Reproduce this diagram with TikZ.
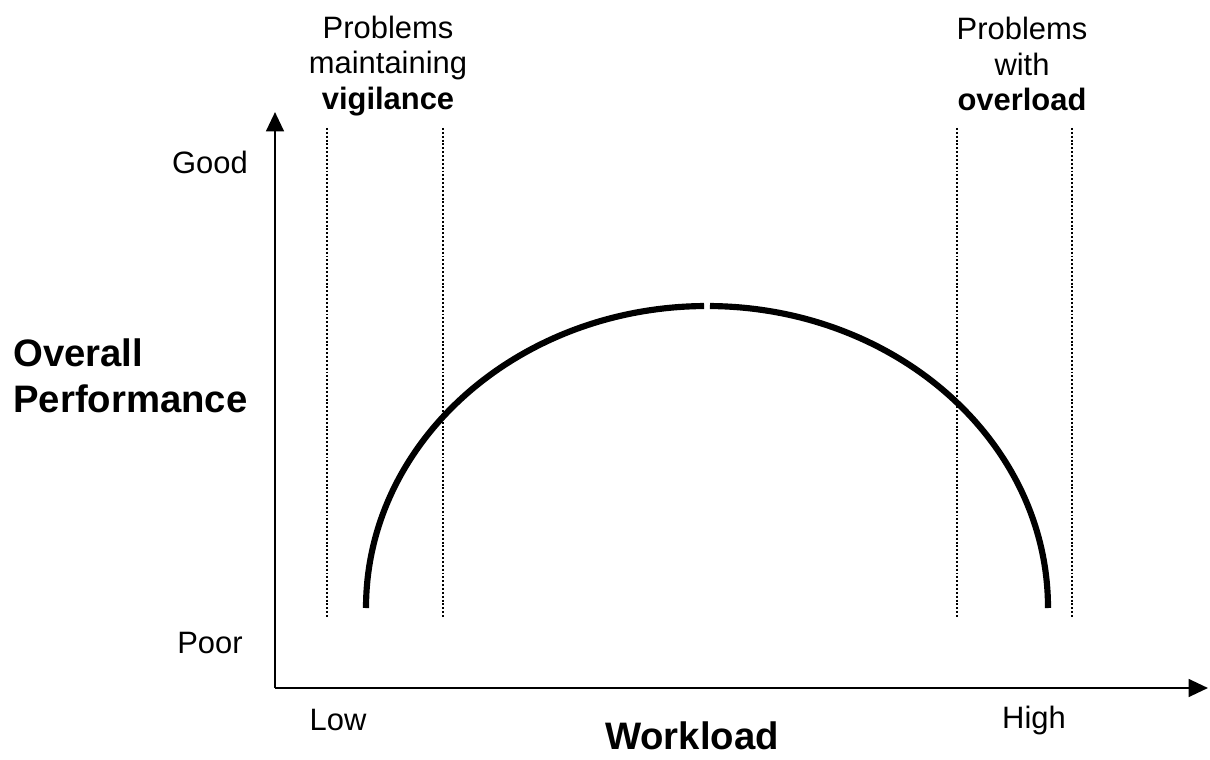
\documentclass[tikz,border=0pt]{standalone}
\usepackage{fontspec}
\setmainfont{Liberation Sans}
\usetikzlibrary{arrows.meta}

\begin{document}
\begin{tikzpicture}[x=0.02cm, y=-0.02cm]

% Styles for the labels and lines
\tikzset{
  lbl/.style={font=\fontsize{17.6}{20.4}\selectfont, inner sep=0pt, align=center},
  bigfont/.style={font=\fontsize{21.8}{26}\selectfont\bfseries, inner sep=0pt},
  axis/.style={line width=1.5pt, -{Triangle[length=11pt, width=10pt]}},
  zone/.style={line width=0.9pt, dash pattern=on 1.1pt off 1.1pt},
  curve/.style={line width=3.5pt}
}

\useasboundingbox (0,0) rectangle (1210,760);

% Axes
\coordinate (origin) at (275,688);
\coordinate (ytip) at (275,112);
\coordinate (xtip) at (1208,688);
\draw[axis] (origin) -- (ytip);
\draw[axis] (origin) -- (xtip);

% Zone boundaries (dotted)
\foreach \x in {327,443,957,1072} {
  \draw[zone] (\x,128) -- (\x,617);
}

% Performance curve (small gap at the top)
\draw[curve] (366,608) arc[start angle=180, end angle=269.5, x radius=341, y radius=302];
\draw[curve] (1048,608) arc[start angle=360, end angle=270.5, x radius=341, y radius=302];

% Axis ticks
\node[lbl] (good) at (210,162) {Good};
\node[lbl] (poor) at (210,643) {Poor};
\node[lbl] (low) at (338,720) {Low};
\node[lbl] (high) at (1034,720) {High};

% Axis labels
\node[bigfont, align=left, anchor=west] (perf) at (13,376) {Overall\\Performance};
\node[bigfont] (work) at (692,736) {Workload};

% Zone labels
\node[lbl] (vig) at (388,66) {Problems\\maintaining\\\textbf{vigilance}};
\node[lbl] (over) at (1022,64) {Problems\\with\\\textbf{overload}};

\end{tikzpicture}
\end{document}
